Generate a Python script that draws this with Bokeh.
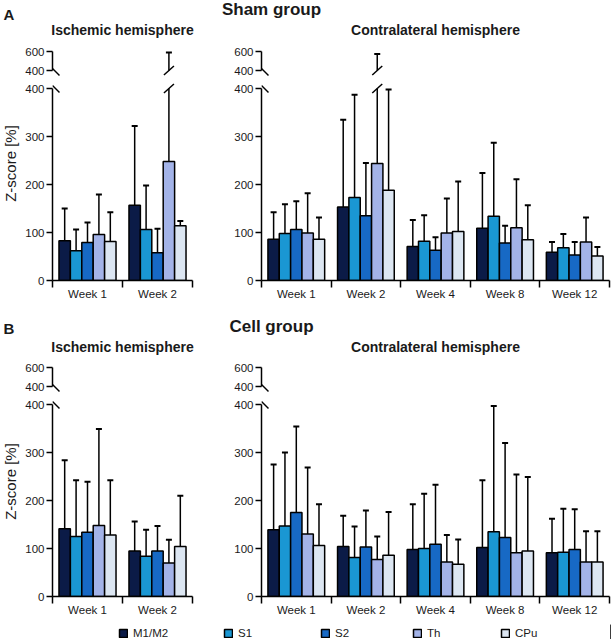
import numpy as np
from bokeh.plotting import figure
from bokeh.models import Range1d, FixedTicker, Label, Legend, LegendItem
from bokeh.layouts import column, row
from bokeh.embed import file_html
from bokeh.resources import INLINE

# ---------------- data ----------------
regions = ["M1/M2", "S1", "S2", "Th", "CPu"]
region_colors = ["#0b1b47", "#1a97d3", "#1769c5", "#a3b3e8", "#dce6f2"]

weeks_ischemic = ["Week 1", "Week 2"]
weeks_contralateral = ["Week 1", "Week 2", "Week 4", "Week 8", "Week 12"]

# rows: M1/M2, S1, S2, Th, CPu ; columns: weeks
sham_ischemic_mean = [[83, 157], [62, 106], [79, 58], [96, 248], [81, 114]]
sham_ischemic_sd = [[67, 165], [44, 92], [42, 50], [83, 342], [61, 10]]

sham_contra_mean = [[86, 153, 71, 109, 59],
                    [98, 173, 82, 134, 68],
                    [106, 135, 63, 78, 53],
                    [99, 244, 99, 110, 80],
                    [86, 188, 102, 85, 51]]
sham_contra_sd = [[56, 182, 55, 115, 21],
                  [61, 214, 54, 153, 29],
                  [59, 110, 27, 36, 27],
                  [83, 331, 72, 101, 51],
                  [45, 210, 104, 72, 19]]

cell_ischemic_mean = [[141, 95], [125, 84], [134, 95], [148, 70], [128, 104]]
cell_ischemic_sd = [[143, 61], [117, 55], [105, 52], [201, 48], [114, 106]]

cell_contra_mean = [[139, 104, 98, 102, 91],
                    [147, 81, 100, 135, 92],
                    [175, 103, 109, 123, 98],
                    [130, 77, 72, 91, 72],
                    [106, 86, 67, 95, 72]]
cell_contra_sd = [[136, 64, 94, 140, 71],
                  [153, 65, 114, 262, 91],
                  [179, 76, 124, 197, 84],
                  [139, 48, 56, 163, 64],
                  [86, 90, 52, 154, 64]]

y_ticks_lower = [0, 100, 200, 300, 400]
y_ticks_upper = [400, 600]

# ---------------- style / layout ----------------
FONT = "Liberation Sans"
TXT = "#1a1a1a"
BAR_W = 0.163
CAP_PX = 3
LW = 1.5
BREAK_AT = 400
UPPER_MAX = 600

LBL_W = 20                    # width of the y-label strip
LEFT_DW, RIGHT_DW = 140, 348  # px spanned by the categories
UP_DH, LOW_DH = 19, 192       # px spanned by 400..600 and 0..400
UP_PAD_T, UP_PAD_B, LOW_PAD_T = 4, 7, 8
LEFT_AXIS_X, RIGHT_AXIS_X = 52, 261
LEFT_BR, RIGHT_BR = 3, 2
TOTAL_W = 611
LEGEND_X = [118, 223, 320, 412, 500]


def clean(p):
    p.outline_line_color = None
    p.grid.visible = False
    p.background_fill_color = "white"
    p.border_fill_color = "white"


def style_y(ax):
    ax.axis_line_width = LW
    ax.axis_line_color = "black"
    ax.major_tick_line_width = LW
    ax.major_tick_line_color = "black"
    ax.major_tick_out = 6
    ax.major_tick_in = 0
    ax.minor_tick_out = 0
    ax.minor_tick_in = 0
    ax.major_label_standoff = 2
    ax.major_label_text_font = FONT
    ax.major_label_text_font_size = "11.5px"
    ax.major_label_text_color = TXT


def seg(p, x0, y0, x1, y1):
    p.segment(x0=[x0], y0=[y0], x1=[x1], y1=[y1], line_color="black", line_width=LW)


def make_panel(weeks, mean, sd, data_w, border_l, border_r, low_bottom):
    n = len(weeks)
    mean = np.array(mean, dtype=float)
    sd = np.array(sd, dtype=float)
    top = mean + sd
    centers = np.arange(n) + 0.5
    ppx = data_w / n
    cap = CAP_PX / ppx

    # ---- upper segment (400..600)
    ppy_u = UP_DH / (UPPER_MAX - BREAK_AT)
    up = figure(frame_width=data_w, frame_height=UP_DH + UP_PAD_T + UP_PAD_B,
                x_range=Range1d(0, n),
                y_range=Range1d(BREAK_AT - UP_PAD_B / ppy_u, UPPER_MAX + UP_PAD_T / ppy_u),
                min_border_left=border_l, min_border_right=border_r, min_border_top=3,
                min_border_bottom=0, x_axis_location=None, toolbar_location=None,
                output_backend="svg")
    up.yaxis.ticker = FixedTicker(ticks=y_ticks_upper)
    up.yaxis.bounds = (BREAK_AT, UPPER_MAX)

    # ---- lower segment (0..400)
    ppy_l = LOW_DH / BREAK_AT
    lo = figure(frame_width=data_w, frame_height=LOW_DH + LOW_PAD_T,
                x_range=Range1d(0, n), y_range=Range1d(0, BREAK_AT + LOW_PAD_T / ppy_l),
                min_border_left=border_l, min_border_right=border_r, min_border_top=3,
                min_border_bottom=low_bottom, toolbar_location=None, output_backend="svg")
    lo.yaxis.ticker = FixedTicker(ticks=y_ticks_lower)
    lo.yaxis.bounds = (0, BREAK_AT)
    ax = lo.xaxis[0]
    ax.ticker = FixedTicker(ticks=list(centers), minor_ticks=list(range(n + 1)))
    ax.major_label_overrides = {float(c): w for c, w in zip(centers, weeks)}
    ax.axis_line_width = LW
    ax.axis_line_color = "black"
    ax.major_tick_out = 0
    ax.major_tick_in = 0
    ax.minor_tick_out = 7
    ax.minor_tick_in = 0
    ax.minor_tick_line_width = LW
    ax.minor_tick_line_color = "black"
    ax.major_label_standoff = 0
    ax.major_label_text_font = FONT
    ax.major_label_text_font_size = "11.5px"
    ax.major_label_text_color = TXT

    for p in (up, lo):
        clean(p)
        style_y(p.yaxis[0])

    for k in range(5):
        xs = centers + (k - 2) * BAR_W
        lo.vbar(x=xs, top=mean[k], bottom=0, width=BAR_W, fill_color=region_colors[k],
                line_color="black", line_width=LW)
        # lower part of the error bars
        lo.segment(x0=xs, y0=mean[k], x1=xs, y1=np.minimum(top[k], BREAK_AT),
                   line_color="black", line_width=LW)
        inside = top[k] <= BREAK_AT
        lo.segment(x0=xs[inside] - cap, y0=top[k][inside], x1=xs[inside] + cap, y1=top[k][inside],
                   line_color="black", line_width=LW + 0.5)
        # upper part of the error bars (only those crossing the break)
        over = top[k] > BREAK_AT
        if over.any():
            up.segment(x0=xs[over], y0=np.maximum(mean[k][over], BREAK_AT), x1=xs[over],
                       y1=top[k][over], line_color="black", line_width=LW)
            up.segment(x0=xs[over] - cap, y0=top[k][over], x1=xs[over] + cap, y1=top[k][over],
                       line_color="black", line_width=LW + 0.5)
            for xb in xs[over]:
                hx = 5 / ppx
                seg(up, xb - hx, BREAK_AT - 4.5 / ppy_u, xb + hx, BREAK_AT + 4.5 / ppy_u)
                seg(lo, xb - hx, BREAK_AT - 4.5 / ppy_l, xb + hx, BREAK_AT + 4.5 / ppy_l)

    # axis break marks (drawn from the axis line into the plot area)
    seg(up, 0, BREAK_AT + 2 / ppy_u, 7 / ppx, BREAK_AT - 5 / ppy_u)
    seg(lo, 0, BREAK_AT + 3 / ppy_l, 7 / ppx, BREAK_AT - 4 / ppy_l)
    return up, lo


def make_ylabel(height, center_from_top):
    f = figure(width=LBL_W, height=height, x_range=Range1d(0, LBL_W), y_range=Range1d(0, height),
               min_border=0, x_axis_location=None, y_axis_location=None,
               toolbar_location=None, output_backend="svg")
    clean(f)
    f.add_layout(Label(x=10, y=height - center_from_top, text="Z-score [%]", angle=np.pi / 2,
                       text_font=FONT, text_font_size="15px", text_color=TXT,
                       text_align="center", text_baseline="middle"))
    return f


def make_header(height, letter, group, letter_base, group_base, sub_base):
    h = figure(width=TOTAL_W, height=height, x_range=Range1d(0, TOTAL_W), y_range=Range1d(0, height),
               min_border=0, x_axis_location=None, y_axis_location=None,
               toolbar_location=None, output_backend="svg")
    clean(h)
    left_c = LEFT_AXIS_X + LEFT_DW / 2
    right_c = RIGHT_AXIS_X + RIGHT_DW / 2
    h.add_layout(Label(x=3, y=height - letter_base, text=letter, text_font=FONT,
                       text_font_size="15px", text_font_style="bold", text_color=TXT,
                       text_baseline="alphabetic", text_align="left"))
    h.add_layout(Label(x=271, y=height - group_base, text=group, text_font=FONT,
                       text_font_size="17px", text_font_style="bold", text_color=TXT,
                       text_baseline="alphabetic", text_align="center"))
    for cx, t in ((left_c, "Ischemic hemisphere"), (right_c, "Contralateral hemisphere")):
        h.add_layout(Label(x=cx, y=height - sub_base, text=t, text_font=FONT,
                           text_font_size="14px", text_font_style="bold", text_color=TXT,
                           text_baseline="alphabetic", text_align="center"))
    return h


left_border = LEFT_AXIS_X - LBL_W
right_border = RIGHT_AXIS_X - (LEFT_AXIS_X + LEFT_DW + LEFT_BR)

UP_H = 3 + UP_DH + UP_PAD_T + UP_PAD_B
LOW_A = 37
LOW_B = 28

hdr_a = make_header(44, "A", "Sham group", 13.5, 9, 29.5)
a_l = make_panel(weeks_ischemic, sham_ischemic_mean, sham_ischemic_sd, LEFT_DW, left_border, LEFT_BR, LOW_A)
a_r = make_panel(weeks_contralateral, sham_contra_mean, sham_contra_sd, RIGHT_DW, right_border, RIGHT_BR, LOW_A)
lbl_a = make_ylabel(UP_H + 3 + LOW_PAD_T + LOW_DH + LOW_A, 119)

hdr_b = make_header(43, "B", "Cell group", 10.5, 9, 29.5)
b_l = make_panel(weeks_ischemic, cell_ischemic_mean, cell_ischemic_sd, LEFT_DW, left_border, LEFT_BR, LOW_B)
b_r = make_panel(weeks_contralateral, cell_contra_mean, cell_contra_sd, RIGHT_DW, right_border, RIGHT_BR, LOW_B)
lbl_b = make_ylabel(UP_H + 3 + LOW_PAD_T + LOW_DH + LOW_B, 121)

# legend strip
leg = figure(width=TOTAL_W, height=15, x_range=Range1d(0, 1), y_range=Range1d(0, 1),
             min_border=0, x_axis_location=None, y_axis_location=None,
             toolbar_location=None, output_backend="svg")
clean(leg)
for name, c, lx in zip(regions, region_colors, LEGEND_X):
    r = leg.vbar(x=[5], top=[1], width=0.1, fill_color=c, line_color="black", line_width=LW)
    lg = Legend(items=[LegendItem(label=name, renderers=[r])], location=(lx, 0),
                glyph_width=10, glyph_height=10, label_standoff=5,
                label_height=10, padding=0, margin=0,
                border_line_color=None, background_fill_alpha=0,
                label_text_font=FONT, label_text_font_size="11.5px", label_text_color=TXT)
    leg.add_layout(lg, "center")

layout = column(
    hdr_a,
    row(lbl_a, column(*a_l, spacing=0), column(*a_r, spacing=0), spacing=0),
    hdr_b,
    row(lbl_b, column(*b_l, spacing=0), column(*b_r, spacing=0), spacing=0),
    leg,
    spacing=0,
    margin=0,
)

open("out.html", "w").write(file_html(layout, INLINE))
